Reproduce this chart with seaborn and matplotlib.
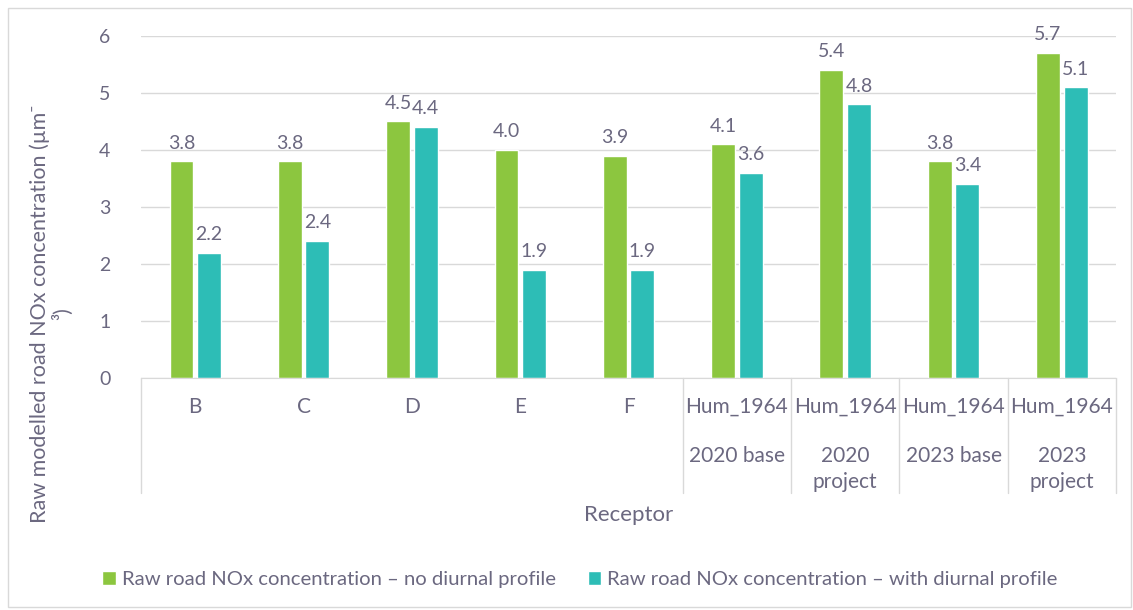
import matplotlib
matplotlib.use("Agg")
import matplotlib.pyplot as plt
import matplotlib.transforms as mtransforms
from matplotlib.patches import Rectangle
import seaborn as sns
import pandas as pd

receptors = ["B", "C", "D", "E", "F", "Hum_1964", "Hum_1964", "Hum_1964", "Hum_1964"]
scenarios = ["", "", "", "", "", "2020 base", "2020\nproject", "2023 base", "2023\nproject"]
no_diurnal = [3.8, 3.8, 4.5, 4.0, 3.9, 4.1, 5.4, 3.8, 5.7]
with_diurnal = [2.2, 2.4, 4.4, 1.9, 1.9, 3.6, 4.8, 3.4, 5.1]
series_names = ["Raw road NOx concentration \u2013 no diurnal profile",
                "Raw road NOx concentration \u2013 with diurnal profile"]

sns.set_style("white")
plt.rcParams["font.family"] = ["Lato", "DejaVu Sans"]
text_col = "#6b6880"
grid_col = "#d9d9d9"
colors = ["#8cc63f", "#2dbdb6"]

keys = [f"{r}|{s}" for r, s in zip(receptors, scenarios)]
df = pd.DataFrame({
    "key": keys * 2,
    "value": no_diurnal + with_diurnal,
    "series": [series_names[0]] * len(keys) + [series_names[1]] * len(keys),
})

fig = plt.figure(figsize=(11.33, 6.10), dpi=100)
ax = fig.add_axes([0.1245, 0.3803, 0.8605, 0.5607])
sns.barplot(data=df, x="key", y="value", hue="series", order=keys,
            palette=colors, saturation=1, width=0.51, gap=0.14, ax=ax, legend=True)

for c in ax.containers:
    ax.bar_label(c, fmt="%.1f", padding=7, fontsize=14, color=text_col)

ax.set_ylim(0, 6)
ax.set_yticks(range(0, 7))
ax.set_xlim(-0.5, len(keys) - 0.5)
ax.yaxis.grid(True, color=grid_col, linewidth=1)
ax.set_axisbelow(True)
for s in ["left", "right", "top"]:
    ax.spines[s].set_visible(False)
ax.spines["bottom"].set_color(grid_col)
ax.tick_params(axis="y", labelsize=14, colors=text_col, length=0, pad=22)
ax.tick_params(axis="x", length=0)
ax.set_xticks([])
ax.set_xlabel("")
ax.set_ylabel("")

# multi-level category axis
trans = mtransforms.blended_transform_factory(ax.transData, ax.transAxes)
for i, (r, s) in enumerate(zip(receptors, scenarios)):
    ax.text(i, -0.085, r, transform=trans, ha="center", va="center",
            fontsize=15, color=text_col, clip_on=False)
    if s:
        ax.text(i, -0.2, s, transform=trans, ha="center", va="top",
                fontsize=15, color=text_col, linespacing=1.35, clip_on=False)
sep_pos = [-0.5] + [i + 0.5 for i in range(4, len(keys))]
for x in sep_pos:
    ax.plot([x, x], [0, -0.335], transform=trans, color=grid_col,
            linewidth=1, clip_on=False)

ax.text(0.5, -0.4, "Receptor", transform=ax.transAxes, ha="center", va="center",
        fontsize=16, color=text_col)
fig.text(0.045, 0.486, "Raw modelled road NOx concentration (\u00b5m\u207b\n\u00b3)",
         rotation=90, ha="center", va="center", multialignment="center",
         fontsize=15.5, color=text_col, linespacing=1.1)

leg = ax.legend(loc="center", bbox_to_anchor=(0.512, 0.05), bbox_transform=fig.transFigure,
                ncol=2, frameon=False, fontsize=14.6, handlelength=0.65, handleheight=0.65,
                handletextpad=0.3, columnspacing=1.6, labelcolor=text_col)

fig.patches.append(Rectangle((8 / 1133, 0.005), 1 - 10 / 1133, 1 - 8 / 610 - 0.005,
                             transform=fig.transFigure, fill=False,
                             edgecolor=grid_col, linewidth=1))

fig.savefig("out.png", dpi=100)
